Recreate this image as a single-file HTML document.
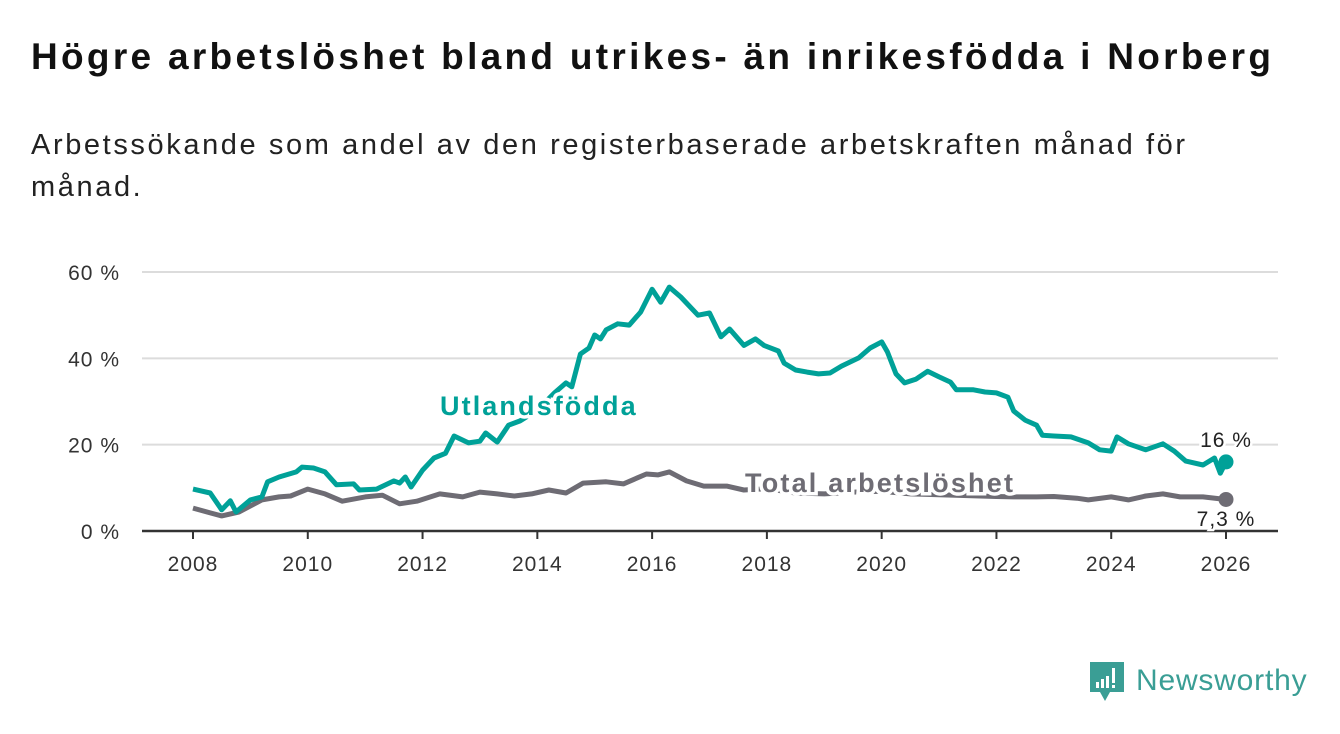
<!DOCTYPE html>
<html><head><meta charset="utf-8"><style>
body{margin:0;width:1340px;height:734px;background:#fff;font-family:"Liberation Sans","DejaVu Sans",sans-serif;overflow:hidden;position:relative}
h1{position:absolute;left:31px;top:36px;margin:0;font-size:37px;font-weight:bold;color:#111;letter-spacing:3.3px;white-space:nowrap}
.sub{position:absolute;left:31px;top:124px;width:1220px;font-size:29px;line-height:42px;color:#222;letter-spacing:2.6px}
svg{position:absolute;left:0;top:0}
</style></head><body>
<h1>Högre arbetslöshet bland utrikes- än inrikesfödda i Norberg</h1>
<div class="sub">Arbetssökande som andel av den registerbaserade arbetskraften månad för månad.</div>
<svg id="chart" width="1340" height="734"></svg>
<script>
const yTicks=[0,20,40,60];
const xTicks=[2008,2010,2012,2014,2016,2018,2020,2022,2024,2026];
const utlT=[2008,2008.3,2008.5,2008.65,2008.75,2009,2009.2,2009.3,2009.5,2009.8,2009.9,2010.1,2010.3,2010.5,2010.8,2010.9,2011.2,2011.5,2011.6,2011.7,2011.8,2012,2012.2,2012.4,2012.55,2012.8,2013,2013.1,2013.3,2013.5,2013.7,2014,2014.3,2014.5,2014.6,2014.75,2014.9,2015,2015.1,2015.2,2015.4,2015.6,2015.8,2016,2016.15,2016.3,2016.5,2016.8,2017,2017.2,2017.35,2017.6,2017.8,2017.95,2018.2,2018.3,2018.5,2018.7,2018.9,2019.1,2019.3,2019.6,2019.8,2020,2020.1,2020.25,2020.4,2020.6,2020.8,2021,2021.2,2021.3,2021.6,2021.8,2022,2022.2,2022.3,2022.5,2022.7,2022.8,2023,2023.3,2023.6,2023.8,2024,2024.1,2024.3,2024.6,2024.9,2025.1,2025.3,2025.6,2025.8,2025.9,2026];
const utlV=[9.7,8.8,4.9,7,4.4,7.2,7.9,11.4,12.5,13.7,14.8,14.6,13.7,10.7,10.9,9.5,9.7,11.6,11.1,12.5,10.2,14.1,16.9,18,22,20.4,20.8,22.7,20.6,24.5,25.5,28,32,34.3,33.4,41,42.4,45.4,44.5,46.6,48,47.7,50.7,56,53,56.5,54.2,50,50.5,45,46.8,43,44.5,43,41.7,38.9,37.3,36.8,36.4,36.6,38.2,40.1,42.4,43.8,41.5,36.4,34.3,35.2,37,35.7,34.5,32.7,32.7,32.2,32,31,27.8,25.7,24.5,22.2,22,21.8,20.4,18.8,18.5,21.8,20.2,18.8,20.2,18.5,16.2,15.3,16.9,13.4,16];
const totT=[2008,2008.3,2008.5,2008.8,2009.2,2009.5,2009.7,2010,2010.3,2010.6,2011,2011.3,2011.6,2011.9,2012.3,2012.7,2013,2013.3,2013.6,2013.9,2014.2,2014.5,2014.8,2015.2,2015.5,2015.9,2016.1,2016.3,2016.6,2016.9,2017.3,2017.6,2018,2018.5,2019,2019.5,2020,2020.5,2021,2021.5,2022,2022.3,2022.7,2023,2023.4,2023.6,2024,2024.3,2024.6,2024.9,2025.2,2025.6,2026];
const totV=[5.3,4.2,3.5,4.4,7.2,7.9,8.1,9.7,8.6,6.9,7.9,8.3,6.3,6.9,8.6,7.9,9,8.6,8.1,8.6,9.5,8.8,11.1,11.4,10.9,13.2,13,13.7,11.6,10.4,10.4,9.5,9.8,8.8,8.6,9,9.2,8.6,8.4,8.2,8,7.9,7.9,8,7.6,7.2,7.9,7.2,8.1,8.6,7.9,7.9,7.3];
const NS="http://www.w3.org/2000/svg";
const svg=document.getElementById('chart');
const X=y=>193+(y-2008)*(1226-193)/18;
const Y=v=>531-v*(531-272)/60;
function el(t,a,p){const e=document.createElementNS(NS,t);for(const k in a)e.setAttribute(k,a[k]);(p||svg).appendChild(e);return e;}
yTicks.forEach(v=>{
 if(v>0){const g=el('line',{x1:142,x2:1278,y1:Y(v),y2:Y(v),stroke:'#dcdcdc','stroke-width':2});
 
 }
 const t=el('text',{x:120,y:Y(v)+8,'text-anchor':'end','font-size':21,'letter-spacing':1,fill:'#333'});t.textContent=v+' %';
 
 
});
const ax=el('line',{x1:142,x2:1278,y1:531,y2:531,stroke:'#333','stroke-width':2.5});


xTicks.forEach(y=>{
 const tk=el('line',{x1:X(y),x2:X(y),y1:531,y2:539,stroke:'#333','stroke-width':2});
 
 
 const t=el('text',{x:X(y),y:571,'text-anchor':'middle','font-size':21,'letter-spacing':1,fill:'#333'});t.textContent=y;
 
 
});
function line(T,V,c,name){
 const p=el('path',{d:T.map((t,i)=>(i?'L':'M')+X(t).toFixed(1)+','+Y(V[i]).toFixed(1)).join(''),fill:'none',stroke:c,'stroke-width':5,'stroke-linejoin':'round'});
 
 
 const d=el('circle',{cx:X(T[T.length-1]),cy:Y(V[V.length-1]),r:7.5,fill:c});
 
 
}
line(totT,totV,'#6e6c74','total-line');
line(utlT,utlV,'#00a198','utlandsfodda-line');
function lab(x,y,s,c,name,anchor,w,ls){const t=el('text',{x:x,y:y,'font-size':w?27:21,'font-weight':w?'bold':'normal','letter-spacing':ls||1,fill:c,stroke:'#fff','stroke-width':w?7:5,'paint-order':'stroke','text-anchor':anchor||'start'});t.textContent=s;
 
 }
lab(440,415,'Utlandsfödda','#00a198','utlandsfodda-label','start',1,2.1);
lab(745,492,'Total arbetslöshet','#6e6c74','total-label','start',1,2.2);
lab(1226,447,'16 %','#222','utlandsfodda-end-value','middle');
lab(1226,526,'7,3 %','#222','total-end-value','middle');
const g=el('g',{});


el('path',{d:'M1090,662h34v30h-14l-5,9l-5,-9h-10z',fill:'#3a9e95'},g);
el('rect',{x:1096,y:682,width:3,height:6,fill:'#fff'},g);
el('rect',{x:1101,y:679,width:3,height:9,fill:'#fff'},g);
el('rect',{x:1106,y:676,width:3,height:12,fill:'#fff'},g);
el('rect',{x:1112,y:668,width:3,height:15,fill:'#fff'},g);
el('rect',{x:1112,y:685,width:3,height:3,fill:'#fff'},g);
const lt=el('text',{x:1136,y:690,'font-size':30,'letter-spacing':0.8,fill:'#3a9e95'},g);lt.textContent='Newsworthy';
</script>
</body></html>
